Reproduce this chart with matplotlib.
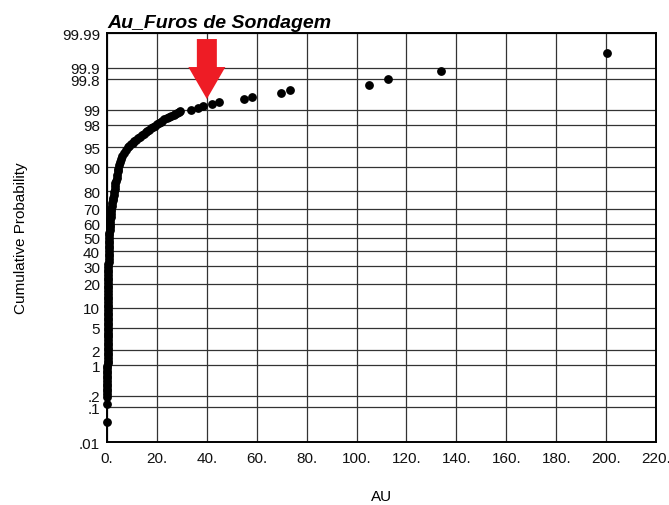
import numpy as np
import matplotlib
matplotlib.use("Agg")
import matplotlib.pyplot as plt
from matplotlib.patches import Polygon
from matplotlib.ticker import NullLocator
from matplotlib.transforms import Affine2D
from statistics import NormalDist

# Au assay values (g/t) and their cumulative probability (%)
au = [
    0.02, 0.05, 0.09, 0.10, 0.11, 0.12, 0.13, 0.13, 0.14, 0.15,
    0.16, 0.16, 0.17, 0.18, 0.18, 0.19, 0.20, 0.20, 0.21, 0.22,
    0.23, 0.24, 0.25, 0.27, 0.28, 0.29, 0.29, 0.30, 0.31, 0.32,
    0.33, 0.34, 0.35, 0.35, 0.36, 0.37, 0.38, 0.39, 0.40, 0.41,
    0.42, 0.43, 0.44, 0.45, 0.46, 0.47, 0.48, 0.50, 0.51, 0.52,
    0.53, 0.55, 0.56, 0.57, 0.59, 0.60, 0.62, 0.64, 0.66, 0.68,
    0.70, 0.74, 0.79, 0.84, 0.90, 0.98, 1.06, 1.15, 1.23, 1.30,
    1.38, 1.46, 1.56, 1.66, 1.77, 1.91, 2.07, 2.22, 2.40, 2.59,
    2.79, 2.99, 3.19, 3.38, 3.60, 3.80, 4.00, 4.23, 4.45, 4.78,
    5.10, 5.50, 6.10, 6.70, 7.50, 8.30, 8.90, 9.60, 10.3, 11.0,
    11.8, 12.5, 13.3, 14.1, 14.8, 15.5, 16.1, 16.8, 17.7, 18.6,
    19.3, 20.1, 20.8, 21.5, 22.2, 23.0, 23.9, 24.8, 25.7, 26.7,
    27.3, 28.0, 28.7, 29.3,
    33.7, 36.3, 38.6, 42.0, 45.0, 54.9, 58.0, 69.7, 73.3,
    105.0, 112.7, 134.0, 200.4,
]
cum_prob = [
    0.04, 0.12, 0.19, 0.22, 0.26, 0.30, 0.34, 0.39, 0.45, 0.52,
    0.60, 0.68, 0.77, 0.87, 0.98, 1.10, 1.25, 1.40, 1.60, 1.80,
    2.0, 2.25, 2.5, 2.8, 3.1, 3.45, 3.8, 4.2, 4.6, 5.0,
    5.5, 6.0, 6.6, 7.2, 7.9, 8.6, 9.4, 10.2, 11.1, 12.0,
    13.0, 14.0, 15.2, 16.4, 17.7, 19.0, 20.4, 21.8, 23.3, 24.8,
    26.4, 28.0, 29.7, 31.4, 33.1, 34.9, 36.7, 38.5, 40.3, 42.2,
    44.0, 45.9, 47.8, 49.7, 51.6, 53.5, 55.4, 57.3, 59.2, 61.0,
    62.9, 64.7, 66.5, 68.3, 70.0, 71.7, 73.4, 75.0, 76.6, 78.1,
    79.6, 81.0, 82.4, 83.7, 85.0, 86.2, 87.4, 88.5, 89.5, 90.5,
    91.4, 92.2, 93.0, 93.7, 94.35, 94.95, 95.25, 95.5, 95.75, 96.0,
    96.25, 96.45, 96.65, 96.85, 97.05, 97.2, 97.35, 97.5, 97.65, 97.78,
    97.9, 98.02, 98.12, 98.23, 98.33, 98.42, 98.5, 98.58, 98.65, 98.72,
    98.78, 98.84, 98.9, 98.95,
    98.99, 99.086, 99.158, 99.258, 99.33, 99.40, 99.477, 99.565, 99.643,
    99.722, 99.80, 99.876, 99.960,
]

prob_ticks = [0.01, 0.1, 0.2, 1, 2, 5, 10, 20, 30, 40, 50, 60, 70, 80,
              90, 95, 98, 99, 99.8, 99.9, 99.99]
prob_labels = [".01", ".1", ".2", "1", "2", "5", "10", "20", "30", "40",
               "50", "60", "70", "80", "90", "95", "98", "99", "99.8",
               "99.9", "99.99"]
au_ticks = [0, 20, 40, 60, 80, 100, 120, 140, 160, 180, 200, 220]
au_labels = ["0.", "20.", "40.", "60.", "80.", "100.", "120.", "140.",
             "160.", "180.", "200.", "220."]

title = "Au_Furos de Sondagem"
arrow_au, arrow_prob = 40.0, 99.41

_nd = NormalDist()
_inv = np.vectorize(_nd.inv_cdf, otypes=[float])
_cdf = np.vectorize(_nd.cdf, otypes=[float])


def probit(p):
    p = np.clip(np.asarray(p, dtype=float), 1e-7, 100 - 1e-7) / 100.0
    return _inv(p)


def inv_probit(z):
    return _cdf(np.asarray(z, dtype=float)) * 100.0


plt.rcParams['font.family'] = ['Liberation Sans', 'DejaVu Sans']

fig = plt.figure(figsize=(6.69, 5.06), dpi=100)
ax = fig.add_axes([0.160, 0.1245, 0.8206, 0.8083])

# normal-probability scale on the y axis
ax.set_yscale('function', functions=(probit, inv_probit))
ax.set_xlim(0, 220)
ax.set_ylim(0.01, 99.99)

ax.set_xticks(au_ticks)
ax.set_xticklabels(au_labels)
ax.set_yticks(prob_ticks)
ax.set_yticklabels(prob_labels)
ax.yaxis.set_minor_locator(NullLocator())
ax.xaxis.set_minor_locator(NullLocator())
ax.tick_params(axis='both', length=0, labelsize=11, colors='#111111')
ax.tick_params(axis='y', pad=5)
ax.tick_params(axis='x', pad=6.5)

ax.grid(True, color='#333333', linewidth=0.9)
ax.set_axisbelow(True)
for s in ax.spines.values():
    s.set_color('black')
    s.set_linewidth(1.4)

ax.plot(au, cum_prob, linestyle='none', marker='o', markersize=5.3,
        color='black', clip_on=False, zorder=3)

ax.set_xlabel("AU", fontsize=11, va='center')
ax.xaxis.set_label_coords(0.5, -0.132)
ax.set_ylabel("Cumulative Probability", fontsize=11, va='center')
ax.yaxis.set_label_coords(-0.157, 0.5)
ax.text(0.0, 1.006, title, transform=ax.transAxes, fontsize=14,
        fontweight='bold', fontstyle='italic', ha='left', va='bottom')

# red arrow pointing down at the curve (shape given in inches from the tip)
verts = [(0.0, 0.0), (-0.185, 0.32), (-0.10, 0.32), (-0.10, 0.60),
         (0.10, 0.60), (0.10, 0.32), (0.185, 0.32)]
fig.canvas.draw()
tx, ty = ax.transData.transform((arrow_au, arrow_prob))
arrow = Polygon(verts, closed=True, facecolor='#ee1c25', edgecolor='none',
                zorder=5, clip_on=False)
ax.add_patch(arrow)
arrow.set_transform(fig.dpi_scale_trans + Affine2D().translate(tx, ty))

fig.savefig("out.png", dpi=100)
